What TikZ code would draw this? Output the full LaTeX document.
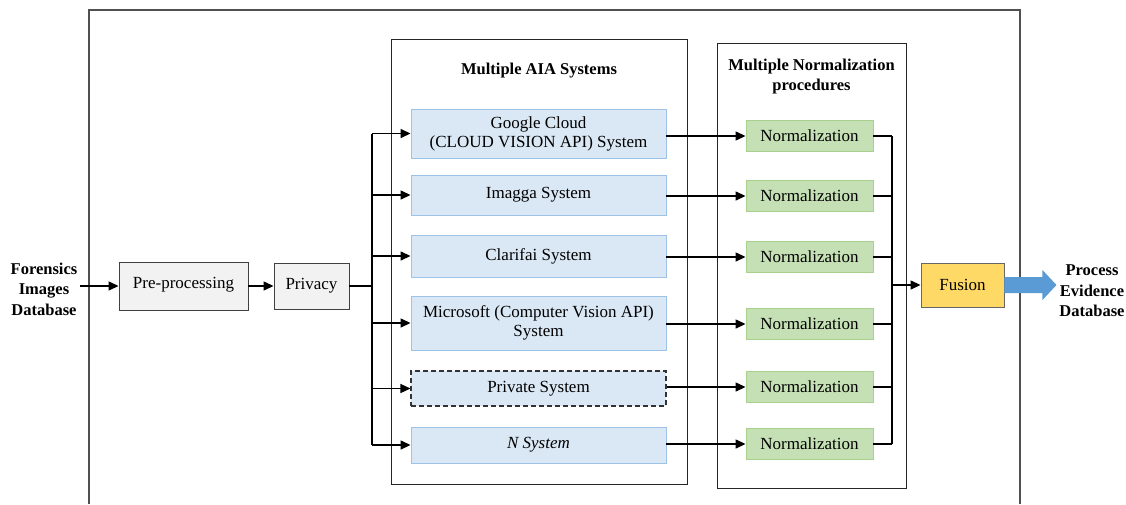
\documentclass[tikz,border=0pt]{standalone}
\usepackage{fontspec}
\setmainfont{Liberation Serif}
\usetikzlibrary{arrows.meta}
\definecolor{grayfill}{HTML}{F2F2F2}
\definecolor{graydraw}{HTML}{404040}
\definecolor{sysfill}{HTML}{DAE8F5}
\definecolor{sysdraw}{HTML}{9DC3E6}
\definecolor{normfill}{HTML}{C5E0B4}
\definecolor{normdraw}{HTML}{A9D18E}
\definecolor{fusfill}{HTML}{FFD966}
\definecolor{arrowblue}{HTML}{5B9BD5}
\definecolor{framec}{HTML}{505050}
\begin{document}
\begin{tikzpicture}[x=1pt,y=-1pt,
 every node/.style={font=\fontsize{17}{19}\selectfont},
 base/.style={draw, inner sep=0pt, align=center, line width=0.9pt},
 graybox/.style={base, fill=grayfill, draw=graydraw},
 sysbox/.style={base, fill=sysfill, draw=sysdraw, minimum width=255pt},
 normbox/.style={base, fill=normfill, draw=normdraw, minimum width=127pt, minimum height=31pt},
 fusbox/.style={base, fill=fusfill, draw=black!60, minimum width=83pt, minimum height=44pt},
 group/.style={draw=black!85, line width=1pt, inner sep=0pt},
 title/.style={font=\bfseries\fontsize{16.5}{20.5}\selectfont, align=center, inner sep=2pt},
 conn/.style={line width=1.4pt},
 arr/.style={conn, -{Triangle[length=10pt,width=9pt]}},
]
\useasboundingbox (0,0) rectangle (1126,504);
% outer frame
\draw[framec, line width=1.3pt] (89,504) -- (89,10) -- (1020,10) -- (1020,504);

% left chain
\node[title] (src) at (44,289) {Forensics\\Images\\Database};
\node[graybox, minimum width=129pt, minimum height=48pt] (pre) at (183.5,286) {\raisebox{7pt}{Pre-processing}};
\node[graybox, minimum width=75pt, minimum height=46pt] (priv) at (311.5,286) {Privacy};
\coordinate (bus) at (372,286);

% groups
\node[group, minimum width=296pt, minimum height=445pt] (aia) at (539,261.5) {};
\node[title] (aiat) at (539,71) {Multiple AIA Systems};
\node[group, minimum width=189pt, minimum height=445pt] (ngrp) at (811.5,265.5) {};
\node[title] (ngrpt) at (811.5,76.5) {Multiple Normalization\\procedures};

% systems
\node[sysbox, minimum height=49pt] (g) at (538.5,133.5) {Google Cloud\\(CLOUD VISION API) System};
\node[sysbox, minimum height=40pt] (im) at (538.5,195) {Imagga System};
\node[sysbox, minimum height=42pt] (cl) at (538.5,256) {Clarifai System};
\node[sysbox, minimum height=54pt] (ms) at (538.5,323) {Microsoft (Computer Vision API)\\System};
\node[sysbox, minimum height=35pt, draw=black!80, line width=1.1pt, dash pattern=on 5pt off 3pt] (pv) at (538.5,388.5) {Private System};
\node[sysbox, minimum height=36pt] (ns) at (538.5,445) {\textit{N System}};

% normalizations
\node[normbox] (n1) at (809.5,136) {Normalization};
\node[normbox] (n2) at (809.5,196) {Normalization};
\node[normbox] (n3) at (809.5,257) {Normalization};
\node[normbox] (n4) at (809.5,324) {Normalization};
\node[normbox] (n5) at (809.5,387) {Normalization};
\node[normbox] (n6) at (809.5,444) {Normalization};

% fusion and output
\node[fusbox] (fus) at (962.5,285) {Fusion};
\coordinate (col) at (892,285);
\node[title] (out) at (1092,291) {Process\\Evidence\\Database};

% connectors
\draw[arr] (src.east |- pre.west) -- (pre.west);
\draw[arr] (pre.east) -- (priv.west);
\draw[conn] (priv.east) -- (bus);
\draw[conn] (bus |- g.west) -- (bus |- ns.west);
\foreach \s in {g,im,cl,ms,pv,ns}{
  \draw[arr] (bus |- \s.west) -- (\s.west);
}
\draw[arr] (g.east |- n1.west) -- (n1.west);
\draw[arr] (im.east |- n2.west) -- (n2.west);
\draw[arr] (cl.east |- n3.west) -- (n3.west);
\draw[arr] (ms.east |- n4.west) -- (n4.west);
\draw[arr] (pv.east |- n5.west) -- (n5.west);
\draw[arr] (ns.east |- n6.west) -- (n6.west);
\foreach \n in {n1,n2,n3,n4,n5,n6}{
  \draw[conn] (\n.east) -- (col |- \n.east);
}
\draw[conn] (col |- n1.east) -- (col |- n6.east);
\draw[arr] (col) -- (fus.west);
% big blue arrow from Fusion to output
\fill[arrowblue] (fus.east) ++(0,-8) -- ++(38,0) -- ++(0,-7) -- ++(14,15) -- ++(-14,15) -- ++(0,-7) -- ++(-38,0) -- cycle;
\end{tikzpicture}
\end{document}
